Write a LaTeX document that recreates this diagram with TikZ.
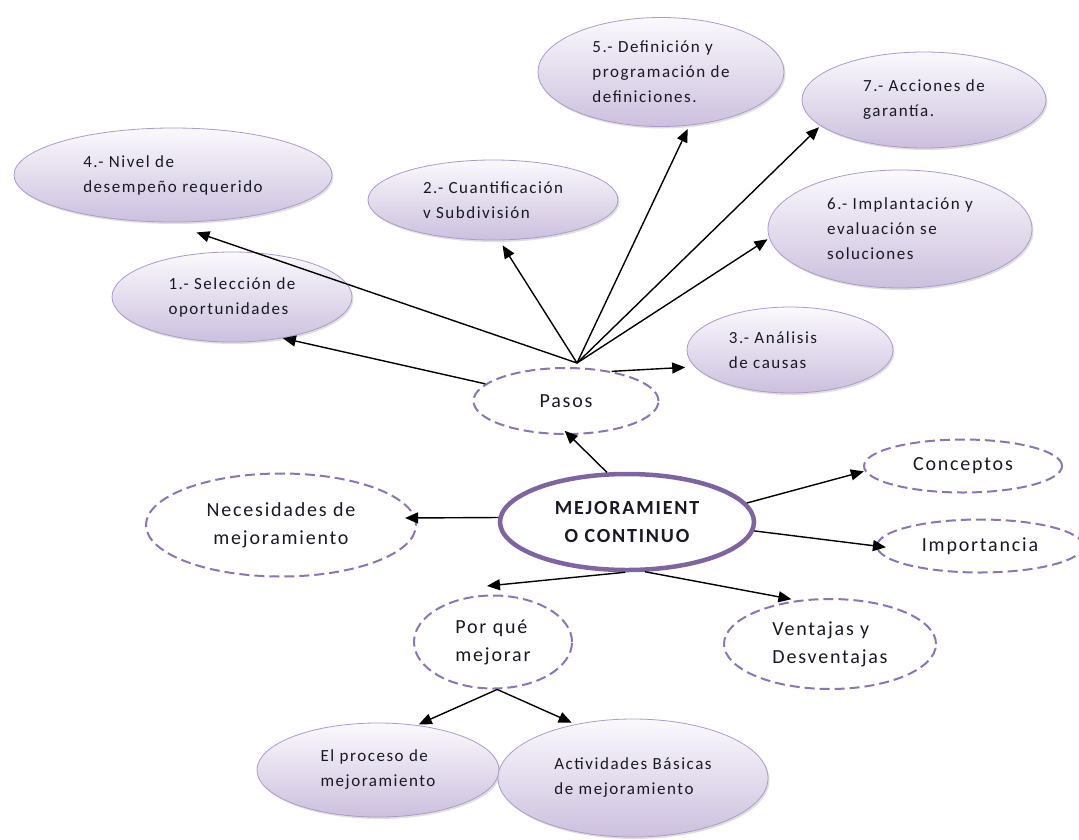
\documentclass[tikz,border=0pt]{standalone}
\usepackage{fontspec}
\setmainfont{Carlito}[LetterSpace=9]
\usetikzlibrary{arrows.meta,shapes.geometric,shadows}

\definecolor{corepurple}{RGB}{128,100,162}
\definecolor{dashpurple}{RGB}{140,117,180}
\definecolor{lavtop}{RGB}{251,249,253}
\definecolor{lavbot}{RGB}{204,192,222}
\definecolor{lavline}{RGB}{172,155,202}
\definecolor{ink}{RGB}{25,25,35}

\begin{document}
\begin{tikzpicture}[x=1pt,y=-1pt,
  every node/.style={text=ink},
  stepbubble/.style={ellipse, draw=lavline, line width=0.8pt,
    top color=lavtop, bottom color=lavbot, inner sep=0pt, align=left,
    font=\fontsize{17}{25}\selectfont,
    drop shadow={shadow xshift=1.5pt, shadow yshift=-2pt, opacity=0.25}},
  topic/.style={ellipse, draw=dashpurple, line width=2pt,
    dash pattern=on 10pt off 5pt, fill=white, inner sep=0pt,
    font=\fontsize{20}{28}\selectfont},
  core/.style={ellipse, draw=corepurple, line width=4.5pt, fill=white,
    inner sep=0pt, align=center, font=\bfseries\fontsize{20}{28}\selectfont},
  link/.style={draw=black, line width=1.4pt, -{Triangle[length=13pt,width=11pt]}},
]
\useasboundingbox (0,0) rectangle (1079,839);
\fill[white] (0,0) rectangle (1079,839);

% central concept
\node[core, minimum width=254pt, minimum height=96pt] (core) at (627,522)
  {MEJORAMIENT\\O CONTINUO};

% dashed topic ellipses
\node[topic, align=center, minimum width=185pt, minimum height=66pt] (pasos) at (566,401) {Pasos};
\node[topic, align=center, minimum width=270pt, minimum height=103pt] (nec) at (281,525)
  {Necesidades de\\mejoramiento};
\node[topic, align=center, minimum width=198pt, minimum height=53pt] (conc) at (963,466) {Conceptos};
\node[topic, align=center, minimum width=206pt, minimum height=53pt] (imp) at (980,546) {Importancia};
\node[topic, align=left, minimum width=212pt, minimum height=90pt] (ven) at (830,644)
  {Ventajas y\\Desventajas};
\node[topic, align=left, minimum width=158pt, minimum height=93pt] (pq) at (493,642)
  {Por qué\\mejorar};

% shaded step ellipses
\node[stepbubble, minimum width=318pt, minimum height=94pt] (n4) at (173,175)
  {4.- Nivel de\\desempeño requerido};
\node[stepbubble, minimum width=240pt, minimum height=90pt] (n1) at (232,297)
  {1.- Selección de\\oportunidades};
\node[stepbubble, minimum width=250pt, minimum height=80pt] (n2) at (493,200)
  {2.- Cuantificación\\v Subdivisión};
\node[stepbubble, minimum width=246pt, minimum height=109pt] (n5) at (661,72)
  {5.- Definición y\\programación de\\definiciones.};
\node[stepbubble, minimum width=244pt, minimum height=96pt] (n7) at (924,100)
  {7.- Acciones de\\garantía.\makebox[16pt]{}};
\node[stepbubble, minimum width=264pt, minimum height=118pt] (n6) at (900,229)
  {6.- Implantación y\\evaluación se\\soluciones};
\node[stepbubble, minimum width=206pt, minimum height=86pt] (n3) at (790,350)
  {3.- Análisis\makebox[34pt]{}\\de causas};
\node[stepbubble, minimum width=242pt, minimum height=94pt] (proc) at (378,770)
  {El proceso de\\mejoramiento};
\node[stepbubble, minimum width=270pt, minimum height=118pt] (act) at (633,778)
  {Actividades Básicas\\de mejoramiento};

% connector end points that do not sit on a border
\coordinate (hub) at ([shift={(11,-38)}]pasos.center);
\coordinate (pqin) at ([shift={(-6,-56)}]pq.center);

% arrows out of "Pasos"
\draw[link, shorten >=31pt] (hub) -- (n4.-97.6);
\draw[link, shorten >=6pt] (hub) -- (n2.-81.7);
\draw[link, shorten >=4pt] (hub) -- (n5.-62.2);
\draw[link, shorten >=2pt] (hub) -- (n7.194.1);
\draw[link, shorten >=2pt] (hub) -- (n6.184.3);
\draw[link] (pasos.168) -- (n1.-39.4);
\draw[link, shorten >=9.5pt] (pasos.33) -- (n3.190.7);

% arrows out of the central concept
\draw[link, shorten >=-6pt] (core.112) -- (pasos.-85.3);
\draw[link, shorten >=-10.7pt] (core.178) -- (nec.3);
\draw[link, shorten >=1pt] (core.9.5) -- (conc.183.4);
\draw[link, shorten >=-10pt] (core.-4.6) -- (imp.180);
\draw[link, shorten >=5.7pt] (core.-70) -- (ven.127.1);
\draw[link] (core.-92) -- (pqin);

% arrows out of "Por qué mejorar"
\draw[link, shorten >=2pt] (pq.-85) -- (proc.49.8);
\draw[link, shorten >=4pt] (pq.-85) -- (act.137);
\end{tikzpicture}
\end{document}
